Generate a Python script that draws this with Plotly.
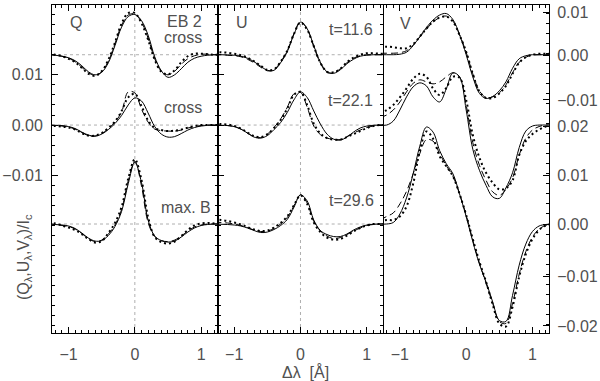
import plotly.graph_objects as go
from plotly.subplots import make_subplots

# wavelength grid (Angstrom) and profiles in units of 1e-3 relative to each baseline
DL = [-1.3, -1.2, -1.1, -1.0, -0.9, -0.8, -0.7, -0.6, -0.5, -0.4, -0.3, -0.2, -0.1,
      0.0, 0.1, 0.2, 0.3, 0.4, 0.5, 0.6, 0.7, 0.8, 0.9, 1.0, 1.1, 1.2, 1.3]

OFFSETS = [0.014, 0.0, -0.0197]  # vertical shifts of the three rows of profiles

Q_SOLID = [
    [0, -0.1, -0.3, -0.6, -1.2, -2.2, -3.4, -4.0, -3.5, -1.6, 1.8, 5.5, 7.6, 8.0, 6.8, 3.9, -0.4, -3.2, -4.5, -4.0, -2.8, -1.5, -0.7, -0.3, -0.1, 0, 0],
    [0, -0.05, -0.1, -0.3, -0.7, -1.4, -2.0, -2.2, -1.8, -0.9, 0.3, 1.9, 4.0, 5.4, 4.8, 2.4, -0.3, -1.8, -2.4, -2.3, -1.7, -1.0, -0.5, -0.2, -0.05, 0, 0],
    [0, -0.1, -0.2, -0.4, -0.9, -1.8, -2.8, -3.4, -3.3, -2.3, -0.5, 2.5, 8.0, 12.3, 8.3, 0.8, -2.4, -3.3, -3.6, -3.4, -2.6, -1.6, -0.8, -0.3, -0.1, 0, 0],
]
Q_DASH = [
    [0, -0.1, -0.3, -0.7, -1.4, -2.5, -3.6, -4.1, -3.4, -1.3, 2.2, 5.9, 7.9, 8.1, 6.5, 3.3, -0.8, -3.3, -4.0, -3.3, -1.9, -0.8, -0.2, 0.1, 0.1, 0, 0],
    [0, -0.1, -0.2, -0.4, -0.8, -1.5, -2.1, -2.2, -1.7, -0.7, 0.6, 2.6, 6.6, 6.4, 3.2, 0.6, -0.8, -1.1, -1.2, -1.2, -1.0, -0.6, -0.3, -0.1, 0, 0, 0],
    [0, -0.1, -0.3, -0.5, -1.0, -1.9, -2.9, -3.5, -3.2, -2.0, -0.2, 2.9, 8.6, 12.5, 7.6, 0.3, -2.5, -3.3, -3.5, -3.2, -2.4, -1.4, -0.6, -0.2, 0, 0, 0],
]
Q_DOT = [
    [0.1, 0, -0.3, -0.8, -1.5, -2.6, -3.8, -4.2, -3.3, -1.0, 2.4, 6.2, 8.3, 8.3, 6.3, 3.0, -1.0, -3.4, -3.9, -3.1, -1.5, -0.3, 0.2, 0.2, 0.1, 0, 0],
    [-0.2, -0.2, -0.3, -0.5, -0.9, -1.6, -2.1, -2.1, -1.6, -0.6, 0.7, 2.8, 5.5, 6.2, 3.8, 0.9, -0.6, -1.0, -1.2, -1.1, -0.9, -0.5, -0.2, 0, 0, 0, 0],
    [0.2, 0.1, -0.3, -0.7, -1.2, -2.0, -3.0, -3.7, -3.4, -1.8, 0.2, 3.4, 9.0, 12.9, 8.8, 1.4, -2.6, -3.6, -3.9, -3.5, -2.4, -1.2, -0.3, 0.1, 0.2, 0.1, 0],
]

U_SOLID = [
    [0, 0, -0.05, -0.1, -0.3, -0.7, -1.4, -2.3, -3.1, -3.1, -1.6, 0.6, 4.0, 6.5, 5.2, 1.8, -1.5, -3.4, -3.7, -3.0, -1.8, -0.9, -0.3, -0.1, 0, 0, 0],
    [0, -0.05, -0.1, -0.3, -0.8, -1.6, -2.4, -2.6, -2.1, -0.9, 0.5, 2.5, 5.0, 6.6, 5.5, 2.8, 0.2, -1.8, -2.8, -3.0, -2.4, -1.4, -0.6, -0.2, -0.05, 0, 0],
    [0, -0.05, -0.1, -0.2, -0.4, -0.8, -1.3, -1.7, -1.6, -1.1, -0.3, 0.9, 3.3, 5.8, 4.6, 0.8, -1.3, -2.1, -2.5, -2.5, -2.0, -1.2, -0.6, -0.2, -0.05, 0, 0],
]
U_DASH = [
    [0, 0, -0.1, -0.2, -0.4, -0.9, -1.6, -2.5, -3.2, -3.0, -1.4, 0.8, 4.2, 6.6, 5.1, 1.6, -1.7, -3.5, -3.6, -2.8, -1.6, -0.7, -0.2, 0, 0, 0, 0],
    [0, -0.05, -0.1, -0.3, -0.8, -1.6, -2.3, -2.5, -1.8, -0.5, 1.2, 3.5, 6.2, 6.5, 3.6, -0.2, -1.9, -2.6, -2.8, -2.9, -2.3, -1.6, -1.0, -0.5, -0.2, 0, 0],
    [0.4, 0.3, 0.2, 0, -0.3, -0.7, -1.2, -1.5, -1.4, -0.9, 0, 1.3, 3.6, 5.8, 4.2, 0.5, -1.4, -2.4, -2.9, -2.7, -2.1, -1.4, -0.8, -0.3, -0.1, 0, 0],
]
U_DOT = [
    [0.5, 0.5, 0.4, 0.2, -0.1, -0.6, -1.3, -2.2, -3.0, -2.9, -1.4, 0.8, 4.1, 6.4, 5.0, 1.7, -1.6, -3.4, -3.5, -2.8, -1.5, -0.6, 0, 0.3, 0.3, 0.2, 0.2],
    [0.3, 0.2, 0.1, -0.2, -0.7, -1.5, -2.2, -2.4, -1.8, -0.6, 1.0, 3.3, 6.0, 6.6, 4.0, 0.3, -1.7, -2.6, -2.9, -2.9, -2.4, -1.8, -1.2, -0.6, -0.2, 0, 0],
    [0.9, 0.8, 0.6, 0.3, -0.1, -0.6, -1.1, -1.4, -1.3, -0.7, 0.2, 1.5, 3.7, 5.7, 4.0, 0.3, -1.6, -2.7, -3.1, -3.0, -2.3, -1.5, -0.8, -0.3, 0, 0, 0],
]

V_SOLID = [
    [0, 0, 0, 0.1, 0.5, 1.8, 3.6, 5.4, 6.9, 7.9, 8.2, 7.0, 4.0, 0.0, -4.4, -7.7, -8.7, -8.3, -7.2, -5.4, -2.7, -0.8, -0.2, 0, 0, 0, 0],
    [0, 0, 0.8, 3.0, 5.6, 7.6, 8.4, 7.8, 5.6, 4.6, 7.2, 10.4, 9.6, 3.0, -4.8, -9.0, -12.0, -14.3, -14.6, -12.5, -9.5, -4.5, -1.2, -0.2, 0, 0, 0],
    [0, 0, 0.3, 2.0, 5.2, 10.0, 15.5, 19.3, 18.3, 14.6, 12.0, 10.0, 6.0, 1.5, -3.5, -8.0, -11.5, -15.5, -19.2, -19.4, -14.2, -8.2, -4.0, -1.5, -0.4, -0.1, 0],
]
V_DASH = [
    [0.3, 0.3, 0.3, 0.4, 0.8, 1.9, 3.5, 5.1, 6.5, 7.4, 7.7, 6.7, 4.0, 0.5, -3.8, -7.2, -8.5, -8.4, -7.6, -6.0, -3.6, -1.5, -0.5, -0.1, 0, 0, 0],
    [1.5, 2.0, 3.0, 4.6, 6.6, 8.3, 9.0, 8.6, 8.2, 8.6, 9.6, 10.4, 9.6, 4.0, -3.5, -8.0, -11.0, -13.3, -14.0, -12.8, -10.5, -6.0, -2.6, -1.0, -0.3, 0, 0],
    [0.8, 1.5, 2.2, 4.0, 6.5, 10.0, 14.0, 16.8, 16.5, 14.0, 11.6, 9.5, 6.0, 1.8, -3.2, -7.8, -11.8, -15.8, -19.4, -19.8, -15.8, -10.0, -5.5, -2.6, -1.0, -0.3, 0],
]
V_DOT = [
    [1.5, 1.6, 1.5, 1.3, 1.3, 2.1, 3.6, 5.2, 6.6, 7.4, 7.6, 6.6, 3.9, 0.6, -3.8, -7.3, -8.6, -8.6, -7.7, -6.2, -3.8, -1.6, -0.5, 0, 0.2, 0.2, 0.2],
    [2.5, 3.0, 4.0, 5.5, 7.3, 9.2, 10.2, 9.6, 7.3, 6.0, 7.4, 9.6, 9.4, 5.0, -2.0, -6.5, -9.5, -11.5, -12.8, -12.6, -11.0, -6.0, -3.2, -1.8, -0.9, -0.3, 0],
    [0.5, 0.8, 0.8, 1.5, 3.5, 8.0, 14.5, 18.4, 17.0, 13.5, 11.5, 9.5, 6.0, 1.8, -3.0, -7.5, -11.5, -16.0, -19.8, -20.4, -16.5, -10.5, -6.0, -3.0, -1.2, -0.3, 0],
]

# labels of the right-hand V axis (two stacked scales)
V_TICKVALS = [0.0225, 0.0139, 0.0050, -0.0002, -0.0101, -0.0197, -0.0302, -0.0400]
V_TICKTEXT = ["0.01", "0.00", "\u22120.01", "0.02", "0.01", "0.00", "\u22120.01", "\u22120.02"]

X_RANGE = [-1.25, 1.25]
Y_RANGE = [-0.0414, 0.0239]

FONT = "Liberation Sans, Arial, sans-serif"
INK = "#505050"

# plot area in pixels (for placing text)
L, R, T, B = 52, 549, 5, 333


def px2paper(px, py):
    return (px - L) / (R - L), (B - py) / (B - T)


fig = make_subplots(
    rows=1, cols=3, horizontal_spacing=0,
    specs=[[{}, {}, {"secondary_y": True}]],
)

styles = [
    ("solid", {"color": "black", "width": 1.0}),
    ("dash", {"color": "black", "width": 1.0, "dash": "7px,4px"}),
    ("dot", {"color": "black", "width": 2.0, "dash": "2px,3px"}),
]

panels = [(Q_SOLID, Q_DASH, Q_DOT), (U_SOLID, U_DASH, U_DOT), (V_SOLID, V_DASH, V_DOT)]
for col, sets in enumerate(panels, start=1):
    for (name, line), profiles in zip(styles, sets):
        for off, prof in zip(OFFSETS, profiles):
            fig.add_trace(
                go.Scatter(
                    x=DL,
                    y=[off + v * 1e-3 for v in prof],
                    mode="lines",
                    line=dict(shape="spline", smoothing=1.0, **line),
                    name=name,
                    showlegend=False,
                    hoverinfo="skip",
                ),
                row=1, col=col,
                # V profiles sit on the right-hand axis (same range as the left one)
                **({"secondary_y": True} if col == 3 else {}),
            )

# dotted reference lines: baselines and line centre
for col in (1, 2, 3):
    kw = {"secondary_y": False} if col == 3 else {}
    for off in OFFSETS:
        fig.add_hline(y=off, line=dict(color="#9a9a9a", width=0.8, dash="3px,3px"),
                      row=1, col=col, layer="below", **kw)
    fig.add_vline(x=0, line=dict(color="#9a9a9a", width=0.8, dash="3px,3px"),
                  row=1, col=col, layer="below")

tickfont = dict(family=FONT, size=16, color=INK)
for col in (1, 2, 3):
    fig.update_xaxes(
        domain=[(col - 1) / 3, col / 3],
        range=X_RANGE, showgrid=False, zeroline=False, automargin=False,
        showline=True, linecolor="black", linewidth=1, mirror="ticks",
        ticks="inside", ticklen=6, tickcolor="black",
        tickvals=[-1, 0, 1], tickfont=tickfont, ticklabelstandoff=7,
        minor=dict(ticks="inside", ticklen=3, tickcolor="black", tickmode="linear", tick0=0, dtick=0.1),
        row=1, col=col,
    )

yaxis_common = dict(
    range=Y_RANGE, showgrid=False, zeroline=False, automargin=False,
    showline=True, linecolor="black", linewidth=1,
    ticks="inside", ticklen=6, tickcolor="black",
    tickvals=[-0.01, 0.0, 0.01], tickformat=".2f", tickfont=tickfont,
    ticklabelstandoff=5,
    minor=dict(ticks="inside", ticklen=3, tickcolor="black", tickmode="linear", tick0=0, dtick=0.002),
)
fig.update_layout(
    yaxis=dict(yaxis_common, mirror="ticks"),
    yaxis2=dict(yaxis_common, mirror="ticks", showticklabels=False),
    yaxis3=dict(yaxis_common, mirror=True, showticklabels=False),
    yaxis4=dict(
        range=Y_RANGE, showgrid=False, zeroline=False, side="right", automargin=False,
        overlaying="y3", anchor="x3",
        showline=True, linecolor="black", linewidth=1,
        ticks="inside", ticklen=6, tickcolor="black",
        tickvals=V_TICKVALS, ticktext=V_TICKTEXT, tickfont=tickfont,
        ticklabelstandoff=4,
        minor=dict(ticks="inside", ticklen=3, tickcolor="black", tickmode="linear", tick0=-0.0197, dtick=0.002),
    ),
)

labels = [
    ("Q", 68, 22, "left"),
    ("EB 2", 204, 21, "right"),
    ("cross", 204, 38, "right"),
    ("cross", 204, 107, "right"),
    ("max. B", 213, 207, "right"),
    ("U", 234, 22, "left"),
    ("t=11.6", 375, 30, "right"),
    ("t=22.1", 375, 100, "right"),
    ("t=29.6", 376, 200, "right"),
    ("V", 398, 23, "left"),
]
for text, px, py, anchor in labels:
    x, y = px2paper(px, py)
    fig.add_annotation(
        x=x, y=y, xref="paper", yref="paper", text=text, showarrow=False,
        xanchor=anchor, yanchor="middle", font=dict(family=FONT, size=16, color=INK),
    )

x, y = px2paper(305, 372)
fig.add_annotation(x=x, y=y, xref="paper", yref="paper", text="\u0394\u03bb  [\u00c5]",
                   showarrow=False, xanchor="center", yanchor="middle",
                   font=dict(family=FONT, size=16, color=INK))
x, y = px2paper(24, 257)
fig.add_annotation(x=x, y=y, xref="paper", yref="paper", textangle=-90,
                   text="(Q<sub>\u03bb</sub>,U<sub>\u03bb</sub>,V<sub>\u03bb</sub>)/I<sub>c</sub>",
                   showarrow=False, xanchor="center", yanchor="middle",
                   font=dict(family=FONT, size=16, color=INK))

fig.update_layout(
    width=600, height=381,
    margin=dict(l=L, r=600 - R, t=T, b=381 - B),
    paper_bgcolor="white", plot_bgcolor="white",
    showlegend=False,
)

# drop the default page margin so the 600x381 figure fills the window exactly
fix_page = (
    "document.body.style.margin='0';document.body.style.overflow='hidden';"
    "Plotly.relayout(document.getElementById('{plot_id}'), {width: 600, height: 381});"
)
fig.write_html("out.html", post_script=fix_page,
               config={"responsive": False, "displayModeBar": False})
